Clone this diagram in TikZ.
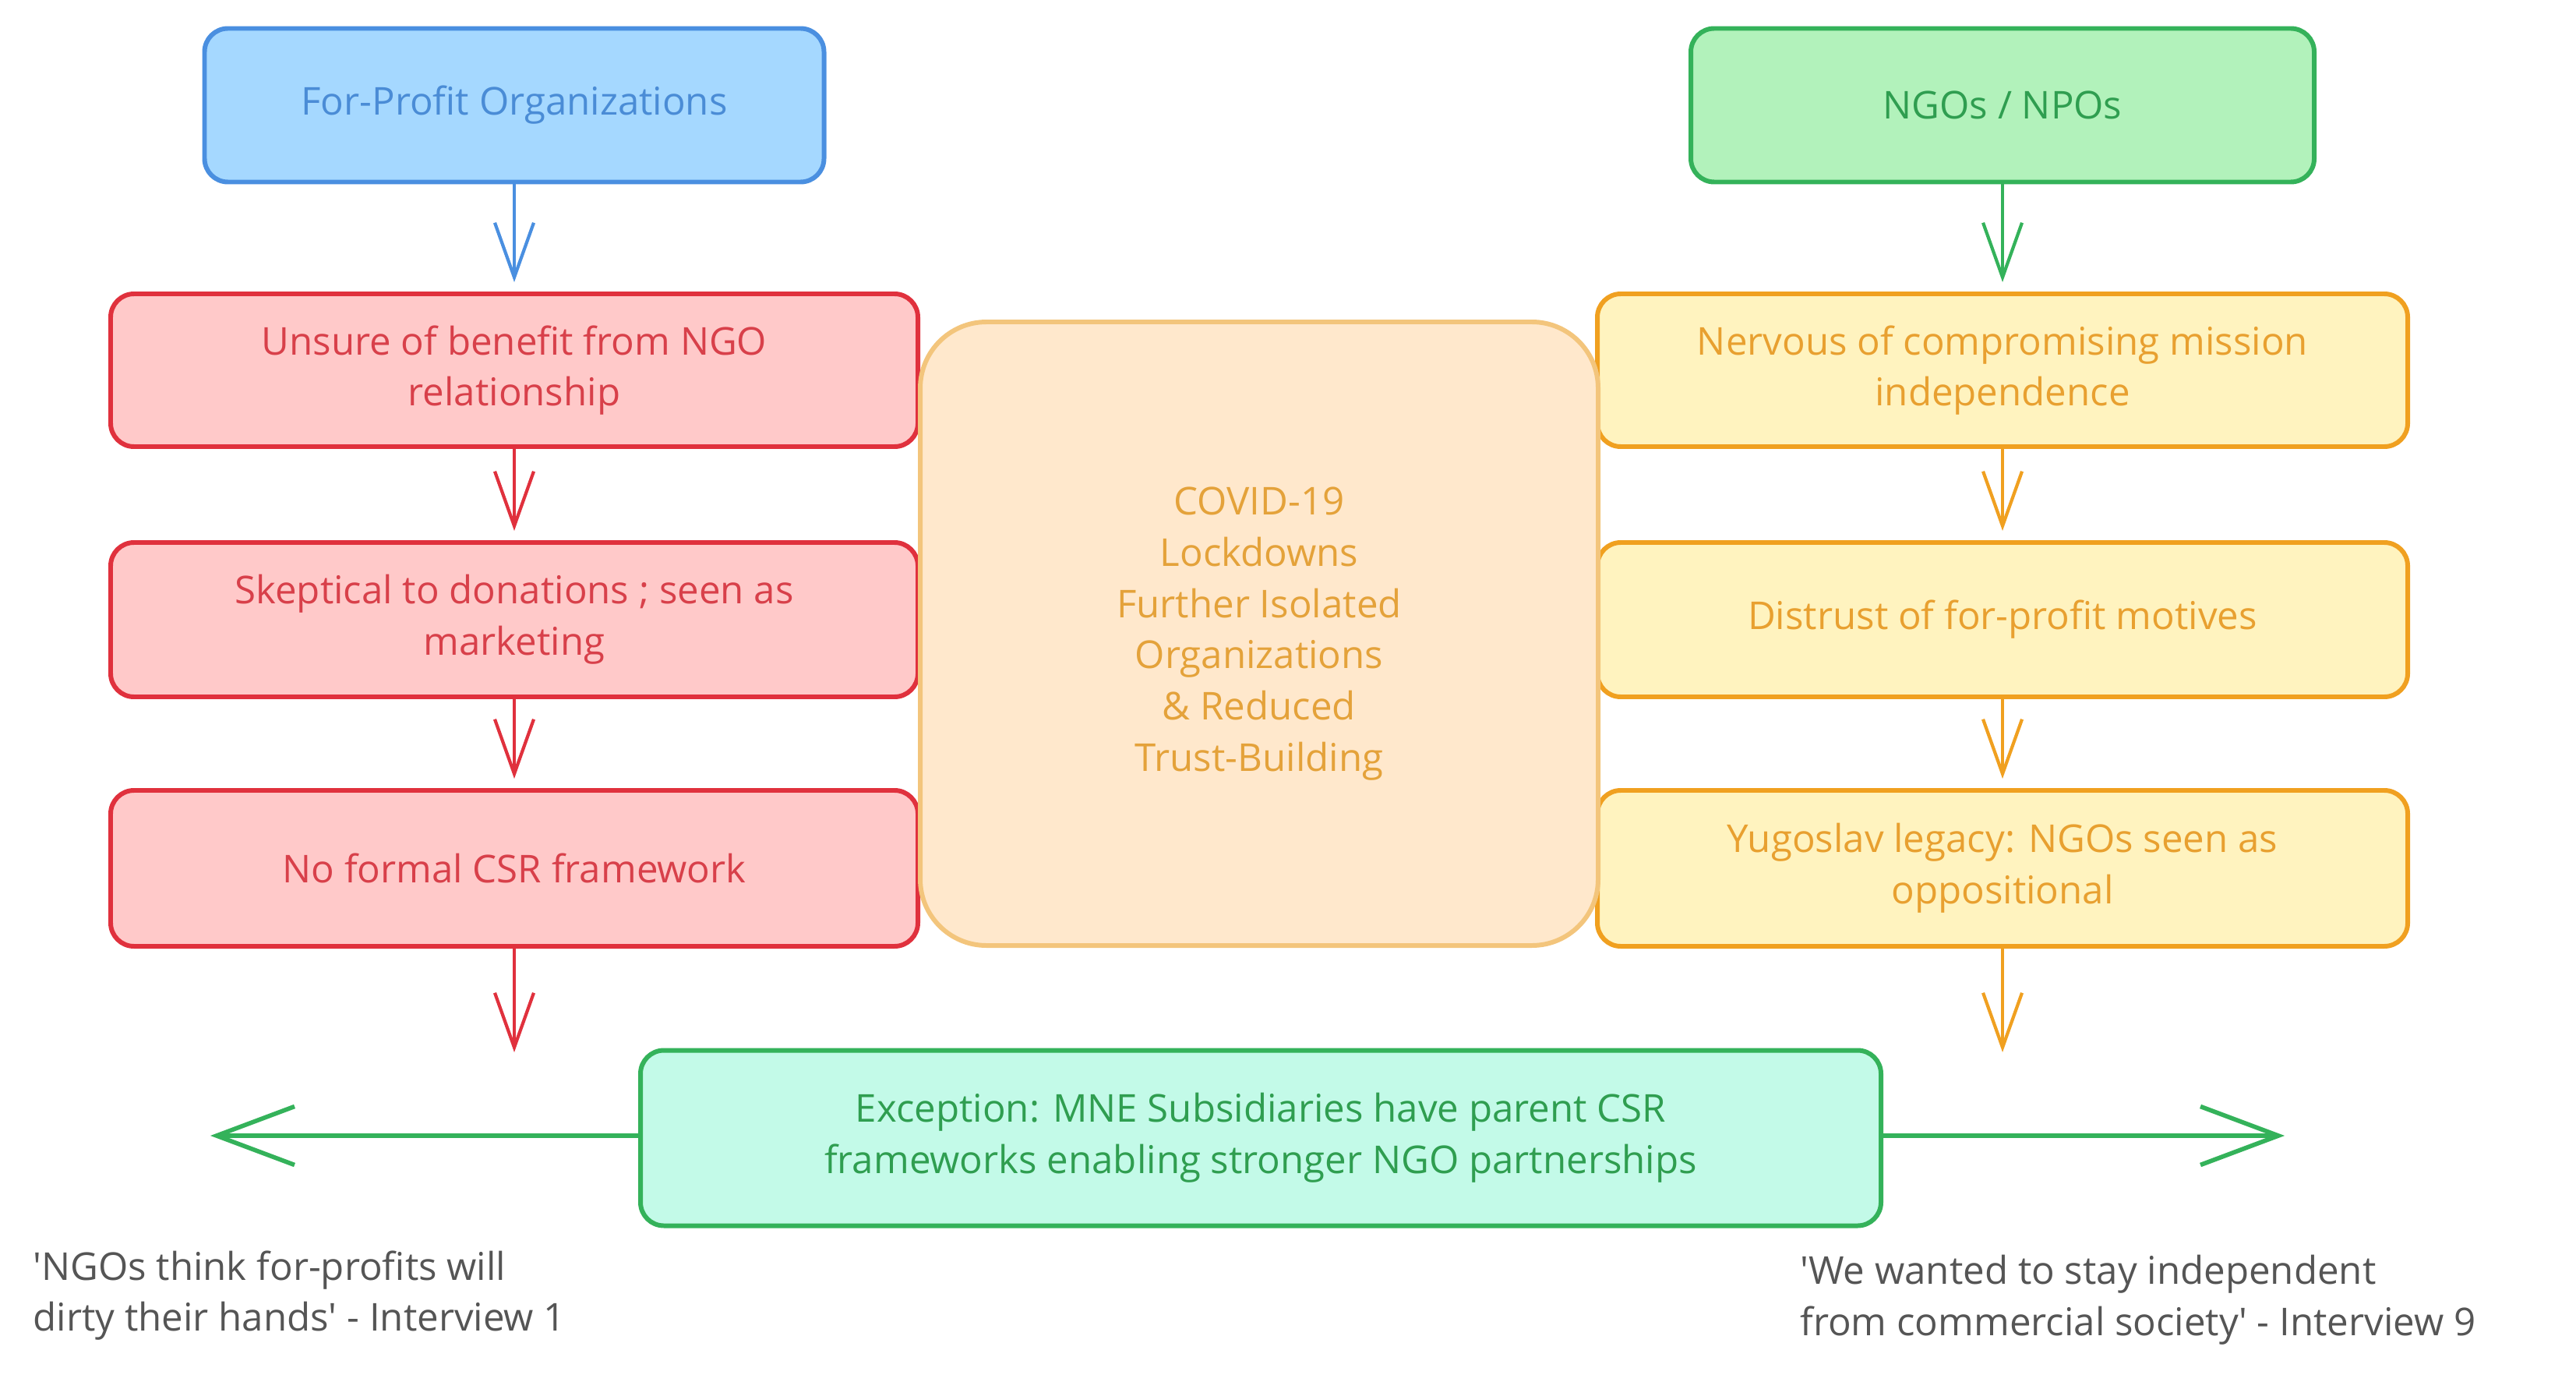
\documentclass[tikz,border=0pt]{standalone}
\usepackage{fontspec}
\setmainfont{Open Sans}
\usepackage{xcolor}
\usepackage{tikz}
\usetikzlibrary{arrows.meta, positioning}

\definecolor{bluefill}{HTML}{A5D8FF}
\definecolor{blueline}{HTML}{4A8FE0}
\definecolor{bluetext}{HTML}{4A8CD6}
\definecolor{redfill}{HTML}{FFC9C9}
\definecolor{redline}{HTML}{E0313D}
\definecolor{redtext}{HTML}{D8404A}
\definecolor{yelfill}{HTML}{FFF3BF}
\definecolor{yelline}{HTML}{F0A020}
\definecolor{yeltext}{HTML}{E8A030}
\definecolor{covfill}{HTML}{FFE8CC}
\definecolor{covline}{HTML}{F3C57C}
\definecolor{covtext}{HTML}{E4A23A}
\definecolor{ngofill}{HTML}{B2F2BB}
\definecolor{ngoline}{HTML}{34B25A}
\definecolor{ngotext}{HTML}{2F9E50}
\definecolor{excfill}{HTML}{C3FAE8}
\definecolor{quotetext}{HTML}{555555}

\begin{document}
\begin{tikzpicture}[
		every node/.style={font=\fontsize{14}{18.7}\selectfont, align=center},
		card/.style={draw, line width=1.7pt, rounded corners=0.3cm, inner sep=0pt},
		flow/.style={line width=1.2pt, -{Straight Barb[length=0.7cm, width=0.5cm, line width=1.2pt]}, shorten >=0.12cm},
		side/.style={line width=1.6pt, draw=ngoline, -{Straight Barb[length=1cm, width=0.75cm, line width=1.6pt]}}
	]
			\useasboundingbox (0,0) rectangle (33.06,-17.73);
			
			% top headers
			\node[card, fill=bluefill, draw=blueline, text=bluetext, minimum width=7.95cm, minimum height=1.97cm] (fp) at (6.6,-1.35) {For-Profit Organizations};
			\node[card, fill=ngofill, draw=ngoline, text=ngotext, minimum width=8cm, minimum height=1.97cm] (ngo) at (25.7,-1.35) {NGOs / NPOs};
			
			% for-profit barriers
			\node[card, fill=redfill, draw=redline, text=redtext, minimum width=10.36cm, minimum height=1.96cm] (r1) at (6.6,-4.75) {Unsure of benefit from NGO\\relationship};
			\node[card, fill=redfill, draw=redline, text=redtext, minimum width=10.36cm, minimum height=1.98cm] (r2) at (6.6,-7.95) {Skeptical to donations ; seen as\\marketing};
			\node[card, fill=redfill, draw=redline, text=redtext, minimum width=10.36cm, minimum height=2cm] (r3) at (6.6,-11.14) {No formal CSR framework};
			
			% ngo barriers
			\node[card, fill=yelfill, draw=yelline, text=yeltext, minimum width=10.4cm, minimum height=1.96cm] (y1) at (25.7,-4.75) {Nervous of compromising mission\\independence};
			\node[card, fill=yelfill, draw=yelline, text=yeltext, minimum width=10.4cm, minimum height=1.98cm] (y2) at (25.7,-7.95) {Distrust of for-profit motives};
			\node[card, fill=yelfill, draw=yelline, text=yeltext, minimum width=10.4cm, minimum height=2cm] (y3) at (25.7,-11.14) {Yugoslav legacy: NGOs seen as\\oppositional};
			
			% covid
			\node[card, fill=covfill, draw=covline, text=covtext, rounded corners=0.85cm, minimum width=8.7cm, minimum height=8cm] (cov) at (16.16,-8.13) {COVID-19\\Lockdowns\\Further Isolated\\Organizations\\\& Reduced\\Trust-Building};
			
			% exception
			\node[card, fill=excfill, draw=ngoline, text=ngotext, minimum width=15.92cm, minimum height=2.25cm] (exc) at (16.18,-14.6) {Exception: MNE Subsidiaries have parent CSR\\frameworks enabling stronger NGO partnerships};
			
			\coordinate (fpend) at (6.6,-13.5);
			\coordinate (ngoend) at (25.7,-13.5);
			\coordinate (leftend) at (2.7,-14.57);
			\coordinate (rightend) at (29.32,-14.57);
			
			\draw[flow, draw=blueline] (fp) -- (r1);
			\draw[flow, draw=redline] (r1) -- (r2);
			\draw[flow, draw=redline] (r2) -- (r3);
			\draw[flow, draw=redline, shorten >=0pt] (r3) -- (fpend);
			
			\draw[flow, draw=ngoline] (ngo) -- (y1);
			\draw[flow, draw=yelline] (y1) -- (y2);
			\draw[flow, draw=yelline] (y2) -- (y3);
			\draw[flow, draw=yelline, shorten >=0pt] (y3) -- (ngoend);
			
			\draw[side] (exc.west |- leftend) -- (leftend);
			\draw[side] (exc.east |- rightend) -- (rightend);
			
			% quotes
			\node[anchor=west, align=left, text=quotetext] (q1) at (0.3,-16.62) {\textquotesingle NGOs think for-profits will\\dirty their hands\textquotesingle{} - Interview 1};
			\node[anchor=west, align=left, text=quotetext] (q2) at (22.98,-16.68) {\textquotesingle We wanted to stay independent\\from commercial society\textquotesingle{} - Interview 9};
		\end{tikzpicture}
\end{document}
